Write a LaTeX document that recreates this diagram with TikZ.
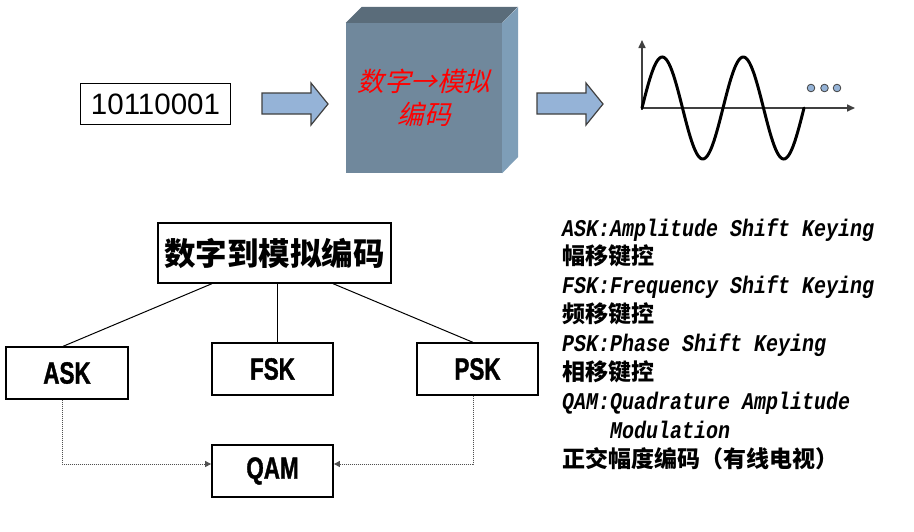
\documentclass[tikz,border=0pt]{standalone}
\usepackage{fontspec}
\setmainfont{Liberation Sans}
\newfontfamily\cjk{Noto Sans CJK SC}
\newfontfamily\cjkslant{Noto Sans CJK SC}[FakeSlant=0.25]
\newfontfamily\monofont{Liberation Mono}[FakeStretch=0.833]
\newfontfamily\narrowsans{Liberation Sans}[FakeStretch=0.73, UprightFont={* Bold}, FakeBold=1.2]
\usetikzlibrary{arrows.meta}
\definecolor{arrowfill}{RGB}{149,179,215}
\definecolor{frontface}{RGB}{112,136,156}
\definecolor{topface}{RGB}{90,108,122}
\definecolor{sideface}{RGB}{126,158,184}
\definecolor{edgegray}{RGB}{64,64,64}
\definecolor{dotgray}{RGB}{80,80,80}
\tikzset{
  boxnode/.style={draw=black, line width=1.3pt, inner sep=0pt, fill=white},
  abbrev/.style={boxnode, minimum width=121pt, minimum height=52pt,
    font=\narrowsans\fontsize{30.7}{34}\selectfont},
  blockarrow/.style={fill=arrowfill, draw=edgegray, line width=1.2pt, line join=miter},
  dotline/.style={draw=dotgray, line width=1pt, dash pattern=on 1pt off 1pt,
    -{Triangle[length=6pt,width=6pt]}},
  solidline/.style={draw=black, line width=1pt},
  legendlatin/.style={anchor=base west, inner sep=0pt,
    font=\monofont\bfseries\itshape\fontsize{24}{28}\selectfont},
  legendcjk/.style={anchor=base west, inner sep=0pt,
    font=\cjk\bfseries\fontsize{23}{28}\selectfont},
}
\begin{document}
\begin{tikzpicture}[x=1pt,y=-1pt]
\fill[white] (0,0) rectangle (914,531);
\useasboundingbox (0,0) rectangle (914,531);

% input bits
\node[boxnode, minimum width=150pt, minimum height=41pt,
  font=\fontsize{29.5}{32}\selectfont] (bits) at (155.5,104) {10110001};

% block arrows
\draw[blockarrow] (262,93) -- (311,93) -- (311,83) -- (328,104) -- (311,125) -- (311,114) -- (262,114) -- cycle;
\draw[blockarrow] (537,93) -- (586,93) -- (586,83) -- (603,104) -- (586,125) -- (586,114) -- (537,114) -- cycle;

% 3D coder block
\node[fill=frontface, minimum width=156pt, minimum height=150pt, inner sep=0pt] (coder) at (424,98) {};
\fill[topface] (coder.north west) -- ++(16,-16) -- ++(156,0) -- (coder.north east) -- cycle;
\fill[sideface] (coder.north east) -- ++(16,-16) -- ++(0,150) -- (coder.south east) -- cycle;
\node[text=red, align=center, inner sep=0pt,
  font=\cjkslant\fontsize{26.5}{33}\selectfont] (codertext) at (coder.center) {数字→模拟\\编码};

% waveform
\draw[edgegray, line width=1.6pt, -{Triangle[length=8pt,width=7pt]}] (642,110) -- (642,40);
\draw[edgegray, line width=1.6pt, -{Triangle[length=8pt,width=7pt]}] (641,108) -- (855,108);
\draw[black, line width=3pt, line cap=round]
  plot[domain=0:162, samples=120, smooth] ({642+\x},{108-51*sin(\x/81*360)});
\foreach \dx in {811,824.5,837}
  \draw[fill=arrowfill, draw=edgegray, line width=0.8pt] (\dx,88) circle (3.8);

% tree
\node[boxnode, minimum width=233pt, minimum height=60pt,
  font=\cjk\bfseries\fontsize{31.5}{34}\selectfont] (top) at (274.5,253) {数字到模拟编码};
\node[abbrev, minimum width=122pt] (ask) at (67,373) {ASK};
\node[abbrev] (fsk) at (272.5,369) {FSK};
\node[abbrev] (psk) at (477.5,369) {PSK};
\node[abbrev, line width=1.8pt] (qam) at (272.5,471) {QAM};

\draw[solidline] ([xshift=-62.5pt]top.south) -- ([xshift=-4pt]ask.north);
\draw[solidline] ([xshift=2.5pt]top.south) -- ([xshift=4.5pt]fsk.north);
\draw[solidline] ([xshift=58.5pt]top.south) -- ([xshift=-4.5pt]psk.north);

\draw[dotline] ([xshift=-5pt]ask.south) |- ([yshift=7pt]qam.west);
\draw[dotline] ([xshift=-4.5pt]psk.south) |- ([yshift=7pt]qam.east);

% legend
\node[legendlatin] (l0) at (562,236) {ASK:Amplitude Shift Keying};
\node[legendcjk]   (l1) at (562,264.9) {幅移键控};
\node[legendlatin] (l2) at (562,293.8) {FSK:Frequency Shift Keying};
\node[legendcjk]   (l3) at (562,322.7) {频移键控};
\node[legendlatin] (l4) at (562,351.6) {PSK:Phase Shift Keying};
\node[legendcjk]   (l5) at (562,380.5) {相移键控};
\node[legendlatin] (l6) at (562,409.4) {QAM:Quadrature Amplitude};
\node[legendlatin] (l7) at (610,438.3) {Modulation};
\node[legendcjk]   (l8) at (562,467.2) {正交幅度编码（有线电视）};
\end{tikzpicture}
\end{document}
